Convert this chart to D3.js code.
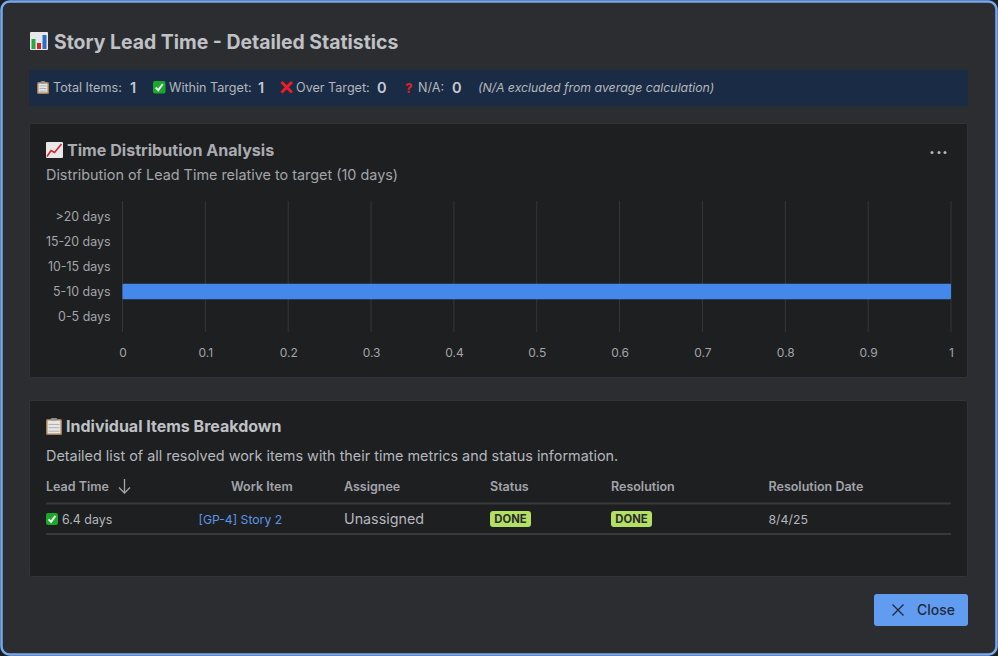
<!DOCTYPE html>
<html>
<head>
<meta charset="utf-8">
<script src="https://cdn.jsdelivr.net/npm/d3@7"></script>
<style>
  html, body { margin: 0; padding: 0; background: #1d1e20; overflow: hidden; }
  svg { display: block; font-family: Inter, "Noto Sans", sans-serif; }
</style>
</head>
<body>
<svg id="chart"></svg>
<script>
const buckets = [">20 days", "15-20 days", "10-15 days", "5-10 days", "0-5 days"];
const bucketCounts = [0, 0, 0, 1, 0];
const xTicks = [0, 0.1, 0.2, 0.3, 0.4, 0.5, 0.6, 0.7, 0.8, 0.9, 1];

const summaryLabels = ["Total Items:", "Within Target:", "Over Target:", "N/A:"];
const summaryValues = [1, 1, 0, 0];

const tableHeaders = ["Lead Time", "Work Item", "Assignee", "Status", "Resolution", "Resolution Date"];
const tableRow = ["6.4 days", "[GP-4] Story 2", "Unassigned", "DONE", "DONE", "8/4/25"];

const width = 998;
const height = 656;

const svg = d3.select("#chart").attr("width", width).attr("height", height);

function addText(parent, x, y, str, size, fill, weight, anchor, style) {
  return parent
    .append("text")
    .attr("x", x)
    .attr("y", y)
    .attr("text-anchor", anchor || "start")
    .style("font-size", size + "px")
    .style("font-weight", weight || 400)
    .style("font-style", style || "normal")
    .attr("fill", fill)
    .text(str);
}

function addRect(parent, x, y, w, h, fill, r, stroke) {
  return parent
    .append("rect")
    .attr("x", x)
    .attr("y", y)
    .attr("width", w)
    .attr("height", h)
    .attr("rx", r || 0)
    .attr("fill", fill)
    .attr("stroke", stroke || "none");
}

// Emoji are drawn by hand, there is no colour emoji font here
function iconBars(x, y) {
  addRect(svg, x, y, 18, 18, "#e8e8ea", 1);
  addRect(svg, x + 1.5, y + 7, 4, 10, "#27a844");
  addRect(svg, x + 7, y + 11, 4, 6, "#d8232a");
  addRect(svg, x + 12.5, y + 3, 4, 14, "#2a6fc4");
}

function iconClipboard(x, y, w, h) {
  addRect(svg, x, y + 1, w, h - 1, "#a67c52", 1.5);
  addRect(svg, x + 1.5, y + 2.5, w - 3, h - 4, "#e6e6e4");
  addRect(svg, x + w * 0.3, y, w * 0.4, 2.5, "#8b8d92", 1);
  [0.35, 0.55, 0.75].forEach((f) =>
    addRect(svg, x + 2.5, y + h * f, w - 5, 0.8, "#a0a3a8")
  );
}

function iconCheck(x, y, size) {
  addRect(svg, x, y, size, size, "#1aa82c", 2);
  svg
    .append("path")
    .attr(
      "d",
      `M${x + size * 0.22},${y + size * 0.52}L${x + size * 0.42},${y + size * 0.74}L${x + size * 0.78},${y + size * 0.24}`
    )
    .attr("fill", "none")
    .attr("stroke", "#f2f6f2")
    .attr("stroke-width", 2);
}

function iconCross(x, y, size, color, lw) {
  svg
    .append("path")
    .attr("d", `M${x},${y}L${x + size},${y + size}M${x + size},${y}L${x},${y + size}`)
    .attr("fill", "none")
    .attr("stroke", color)
    .attr("stroke-width", lw);
}

function iconChartIcon(x, y) {
  addRect(svg, x, y, 17, 16, "#e8e8ea", 1);
  svg
    .append("path")
    .attr("d", `M${x + 1},${y + 14.5}L${x + 5},${y + 8.5}L${x + 8.5},${y + 10.5}L${x + 15.5},${y + 2}`)
    .attr("fill", "none")
    .attr("stroke", "#d8232a")
    .attr("stroke-width", 1.6);
}

// Backdrop and modal
addRect(svg, 1.5, 1.5, width - 3, height - 3, "#2c2d31", 8, "#7aa9ee").attr("stroke-width", 2.5);

iconBars(30, 32);
addText(svg, 54, 48.5, "Story Lead Time - Detailed Statistics", 19.4, "#bfc1c5", 700);

// Summary strip
addRect(svg, 29, 70, 939, 36, "#1a2b45");
const summaryX = [53, 169, 296, 418];
const summaryValueX = [130, 258, 377, 452];
const mutedText = "#b4b7bc";

iconClipboard(37, 81, 12, 13);
iconCheck(153, 81, 12.5);
iconCross(281.5, 82, 10.5, "#ee1c25", 3);
addText(svg, 405, 92.5, "?", 13, "#d8232a", 800);

summaryLabels.forEach((label, i) => {
  addText(svg, summaryX[i], 92, label, 12.6, mutedText);
  addText(svg, summaryValueX[i], 93, summaryValues[i], 14.5, "#c7cad0", 600);
});
addText(svg, 478, 92, "(N/A excluded from average calculation)", 12.3, mutedText, 400, "start", "italic");

// Chart card
addRect(svg, 29.5, 123.5, 938, 254, "#1e1f21", 2, "#333438");
iconChartIcon(46, 142);
addText(svg, 67, 155.5, "Time Distribution Analysis", 16.1, "#a9abb0", 700);
addText(svg, 46, 179.5, "Distribution of Lead Time relative to target (10 days)", 14.4, "#a2a5aa");

[932, 939, 945].forEach((cx) =>
  svg.append("circle").attr("cx", cx).attr("cy", 152.5).attr("r", 1.5).attr("fill", "#b4b7bc")
);

const x = d3.scaleLinear().domain([0, 1]).range([122.5, 951]);
const y = d3.scaleBand().domain(buckets).range([204, 329]).paddingInner(0.38).paddingOuter(0.19);

const gridLayer = svg.append("g");
xTicks.forEach((t) => {
  gridLayer
    .append("line")
    .attr("x1", x(t))
    .attr("x2", x(t))
    .attr("y1", 201)
    .attr("y2", 332)
    .attr("stroke", "#36373a")
    .attr("stroke-width", 1);
});

svg
  .append("g")
  .selectAll("rect")
  .data(buckets)
  .enter()
  .append("rect")
  .attr("x", x(0))
  .attr("y", (d) => y(d))
  .attr("width", (d, i) => x(bucketCounts[i]) - x(0))
  .attr("height", y.bandwidth())
  .attr("fill", "#4488ec")
  .attr("rx", 1);

const yAxis = svg
  .append("g")
  .attr("transform", "translate(110.5,0.5)")
  .call(d3.axisLeft(y).tickSize(0).tickPadding(0));
yAxis.select(".domain").remove();
yAxis.selectAll("text").attr("fill", "#a2a5aa").style("font-size", "12.4px").style("font-family", "Inter");

const xAxis = svg
  .append("g")
  .attr("transform", "translate(0,348)")
  .call(d3.axisBottom(x).tickValues(xTicks).tickSize(0).tickPadding(0).tickFormat((d) => d));
xAxis.select(".domain").remove();
xAxis.selectAll("text").attr("fill", "#a2a5aa").style("font-size", "12px").style("font-family", "Inter");

// Table card
addRect(svg, 29.5, 400.5, 938, 176, "#1e1f21", 2, "#333438");
iconClipboard(46, 418, 16, 17);
addText(svg, 66, 432, "Individual Items Breakdown", 16, "#bfc1c5", 700);
addText(svg, 46, 460.5, "Detailed list of all resolved work items with their time metrics and status information.", 14.4, "#b4b7bc");

const headerX = [46, 231, 344, 490, 611, 768.5];
tableHeaders.forEach((h, i) => addText(svg, headerX[i], 490.5, h, 12.5, "#a2a5aa", 600));

svg
  .append("path")
  .attr("d", "M124.5,479V493M119,487.5L124.5,493L130,487.5")
  .attr("fill", "none")
  .attr("stroke", "#a2a5aa")
  .attr("stroke-width", 1.3);

addRect(svg, 46, 502.5, 905, 2, "#38393d");
addRect(svg, 46, 533, 905, 2, "#38393d");

iconCheck(46, 513, 12);
addText(svg, 62, 523.5, tableRow[0], 12.4, "#b4b7bc");
addText(svg, 198.5, 523.5, tableRow[1], 12.2, "#5a96e8");
addText(svg, 344, 524, tableRow[2], 14.3, "#b4b7bc");

[490, 611].forEach((bx, i) => {
  addRect(svg, bx, 511, 41, 16, "#b3df62", 3);
  addText(svg, bx + 20.5, 523, tableRow[3 + i], 11.3, "#2a2c30", 700, "middle");
});
addText(svg, 768.5, 523.5, tableRow[5], 12.3, "#b4b7bc");

// Close button
addRect(svg, 874, 594, 94, 32, "#629cf0", 3);
iconCross(892.5, 604.5, 11, "#1e2a3c", 1.3);
addText(svg, 917, 614.5, "Close", 14, "#1e2a3c", 500);
</script>
</body>
</html>
